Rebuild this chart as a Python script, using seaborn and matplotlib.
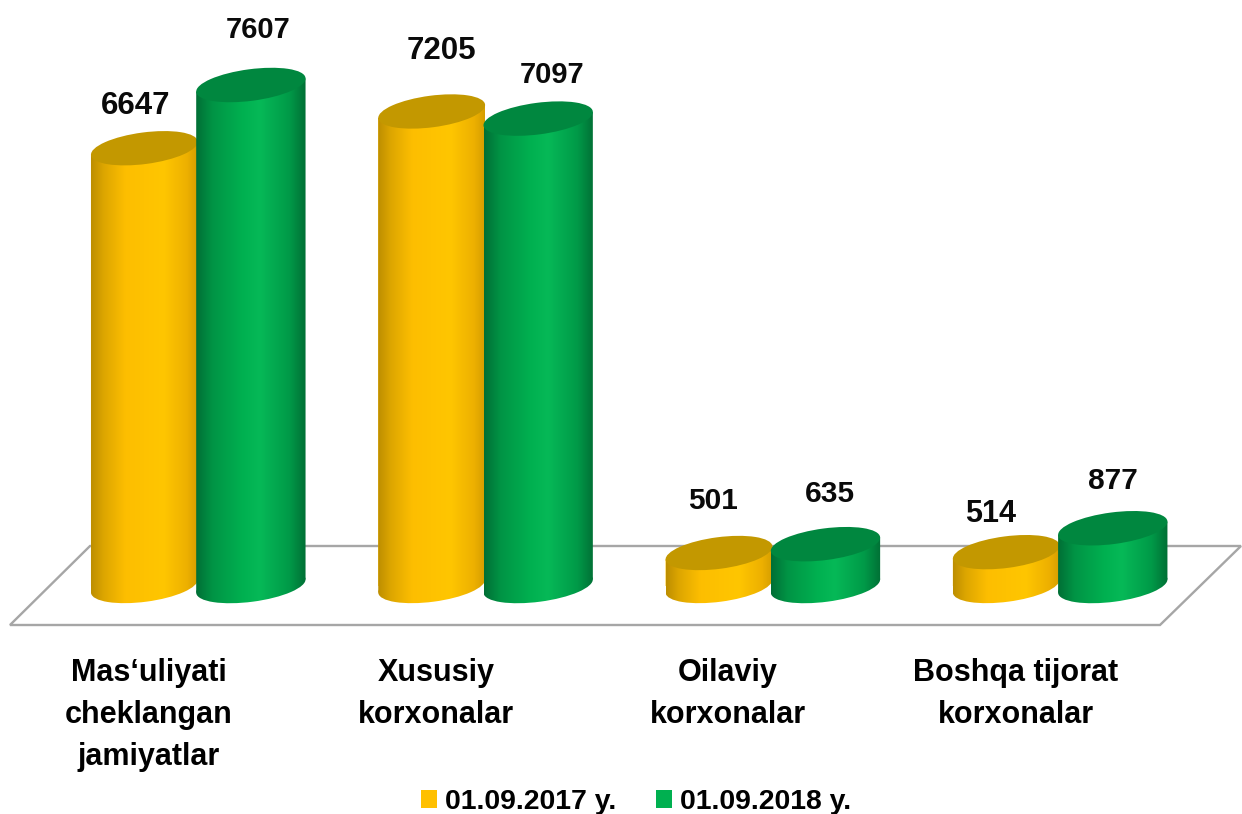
import numpy as np
import pandas as pd
import matplotlib
matplotlib.use("Agg")
import matplotlib.pyplot as plt
import seaborn as sns
from matplotlib.colors import LinearSegmentedColormap
from matplotlib.patches import PathPatch, Patch, Polygon
from matplotlib.path import Path
from matplotlib.transforms import Affine2D, IdentityTransform, ScaledTranslation

categories = ["Mas‘uliyati\ncheklangan\njamiyatlar", "Xususiy\nkorxonalar",
              "Oilaviy\nkorxonalar", "Boshqa tijorat\nkorxonalar"]
series_names = ["01.09.2017 y.", "01.09.2018 y."]
values_2017 = [6647, 7205, 501, 514]
values_2018 = [7607, 7097, 635, 877]

# label styling (pixel offsets from each bar top, font sizes)
offsets_2017 = [(-8, 42), (11, 60), (-5, 52), (-14, 38)]
offsets_2018 = [(7, 55), (14, 44), (4, 50), (0, 47)]
sizes_2017 = [22.5, 22.5, 21.5, 22]
sizes_2018 = [21, 21, 21.5, 21.5]
tick_shifts = [-48, -48, -43.5, -43]

W, H = 1242, 814
sns.set_theme(style="white")
plt.rcParams["font.family"] = ["Liberation Sans", "DejaVu Sans"]
plt.rcParams["font.weight"] = "bold"

df = pd.DataFrame({
    "category": categories * 2,
    "series": [series_names[0]] * 4 + [series_names[1]] * 4,
    "value": values_2017 + values_2018,
})

fig = plt.figure(figsize=(W / 100, H / 100), dpi=100, facecolor="white")
ax_bottom_px = 636
ax = fig.add_axes([0, 1 - ax_bottom_px / H, 1, ax_bottom_px / H])
sns.barplot(data=df, x="category", y="value", hue="series", width=0.75, gap=0,
            palette=["#FFC000", "#00B050"], legend=False, ax=ax, saturation=1)
bars = list(ax.patches)

# scales: 287.3 px per category, 0.06586 px per unit, baseline at 586 px
ppx, ppy, x0, base = 287.3, 0.06586, 197.0, 586.0
ax.set_xlim(-x0 / ppx, (W - x0) / ppx)
ax.set_ylim(-(ax_bottom_px - base) / ppy, base / ppy)
sns.despine(ax=ax, left=True, bottom=True)
ax.set_xlabel("")
ax.set_ylabel("")
ax.set_yticks([])
ax.set_facecolor("none")
ax.set_xticks(range(4))
ax.set_xticklabels(categories, fontsize=22, fontweight="bold", linespacing=1.52, color="black")
ax.tick_params(axis="x", length=0, pad=16)
for t, sh in zip(ax.get_xticklabels(), tick_shifts):
    t.set_transform(t.get_transform() + ScaledTranslation(sh / 100, 0, fig.dpi_scale_trans))


def py(y):
    return H - y


# floor
floor_pts = [(10, py(625)), (1160, py(625)), (1241, py(546)), (90, py(546))]
ax.add_patch(Polygon(floor_pts, closed=True, facecolor="white", edgecolor="#A6A6A6",
                     linewidth=1.7, transform=IdentityTransform(), clip_on=False, zorder=1))

cmaps = [
    LinearSegmentedColormap.from_list("y", [(0, "#BD8E00"), (0.12, "#DDA600"), (0.32, "#FDBE00"),
                                            (0.68, "#FFC600"), (0.9, "#EDB000"), (1, "#D59E00")]),
    LinearSegmentedColormap.from_list("g", [(0, "#006F35"), (0.15, "#009445"), (0.42, "#00B050"),
                                            (0.58, "#06B957"), (0.85, "#009A48"), (1, "#006F35")]),
]
top_colors = ["#C39800", "#00873F"]
b = 15.8
theta = np.deg2rad(7.5)
s, c = np.sin(theta), np.cos(theta)
grad = np.linspace(0, 1, 256)[None, :]

fig.canvas.draw()
data_to_px = ax.transData
all_vals = values_2017 + values_2018
all_offs = offsets_2017 + offsets_2018
all_sizes = sizes_2017 + sizes_2018
for i, bar in enumerate(bars):
    hue = i // 4
    z = 3 + hue * 2
    xl, xr = bar.get_x(), bar.get_x() + bar.get_width()
    val = bar.get_height()
    (pl, y0), (pr, y1) = data_to_px.transform([(xl, 0), (xr, val)])
    if hue == 0:
        pl += 2.5
    cx = (pl + pr) / 2
    half = (pr - pl) / 2 + 0.8
    a = np.sqrt((half**2 - (b * s) ** 2) / c**2)
    dy = (a**2 - b**2) * s * c / half
    ell = lambda yc: Path.unit_circle().transformed(Affine2D().scale(a, b).rotate_deg(7.5).translate(cx, yc))
    body = Path([(cx - half, y1 - dy), (cx + half, y1 + dy), (cx + half, y0 + dy), (cx - half, y0 - dy), (cx - half, y1 - dy)])
    bar.set_zorder(z)
    bar.set_linewidth(0)
    bar.set_clip_path(body, IdentityTransform())
    ext_in = ax.transData.inverted()
    ex0, ey0 = ext_in.transform((cx - half, y0 - b - dy - 2))
    ex1, ey1 = ext_in.transform((cx + half, y1 + b + dy + 2))
    for path in (body, ell(y0)):
        im = ax.imshow(grad, extent=(ex0, ex1, ey0, ey1), aspect="auto", cmap=cmaps[hue],
                       vmin=0, vmax=1, zorder=z + 0.1, interpolation="bilinear", origin="lower")
        im.set_clip_path(path, IdentityTransform())
    ax.add_patch(PathPatch(ell(y1), facecolor=top_colors[hue], edgecolor="none",
                           transform=IdentityTransform(), zorder=z + 0.5, clip_on=False))
    ox, oy = all_offs[i]
    ax.annotate(str(all_vals[i]), xy=((xl + xr) / 2, val), xytext=(ox, oy), textcoords="offset pixels",
                ha="center", va="center", fontsize=all_sizes[i], fontweight="bold", color="#0A0A0A", zorder=10,
                annotation_clip=False)

ax.set_xlim(-x0 / ppx, (W - x0) / ppx)
ax.set_ylim(-(ax_bottom_px - base) / ppy, base / ppy)

handles = [Patch(facecolor="#FFC000", edgecolor="none"), Patch(facecolor="#00B050", edgecolor="none")]
fig.legend(handles, series_names, loc="center", bbox_to_anchor=(636 / W, 1 - 802 / H), ncol=2, frameon=False,
           fontsize=20.4, handlelength=0.57, handleheight=0.57, handletextpad=0.3, columnspacing=1.38,
           borderpad=0, labelcolor="black")

fig.savefig("out.png", dpi=100, facecolor="white")
